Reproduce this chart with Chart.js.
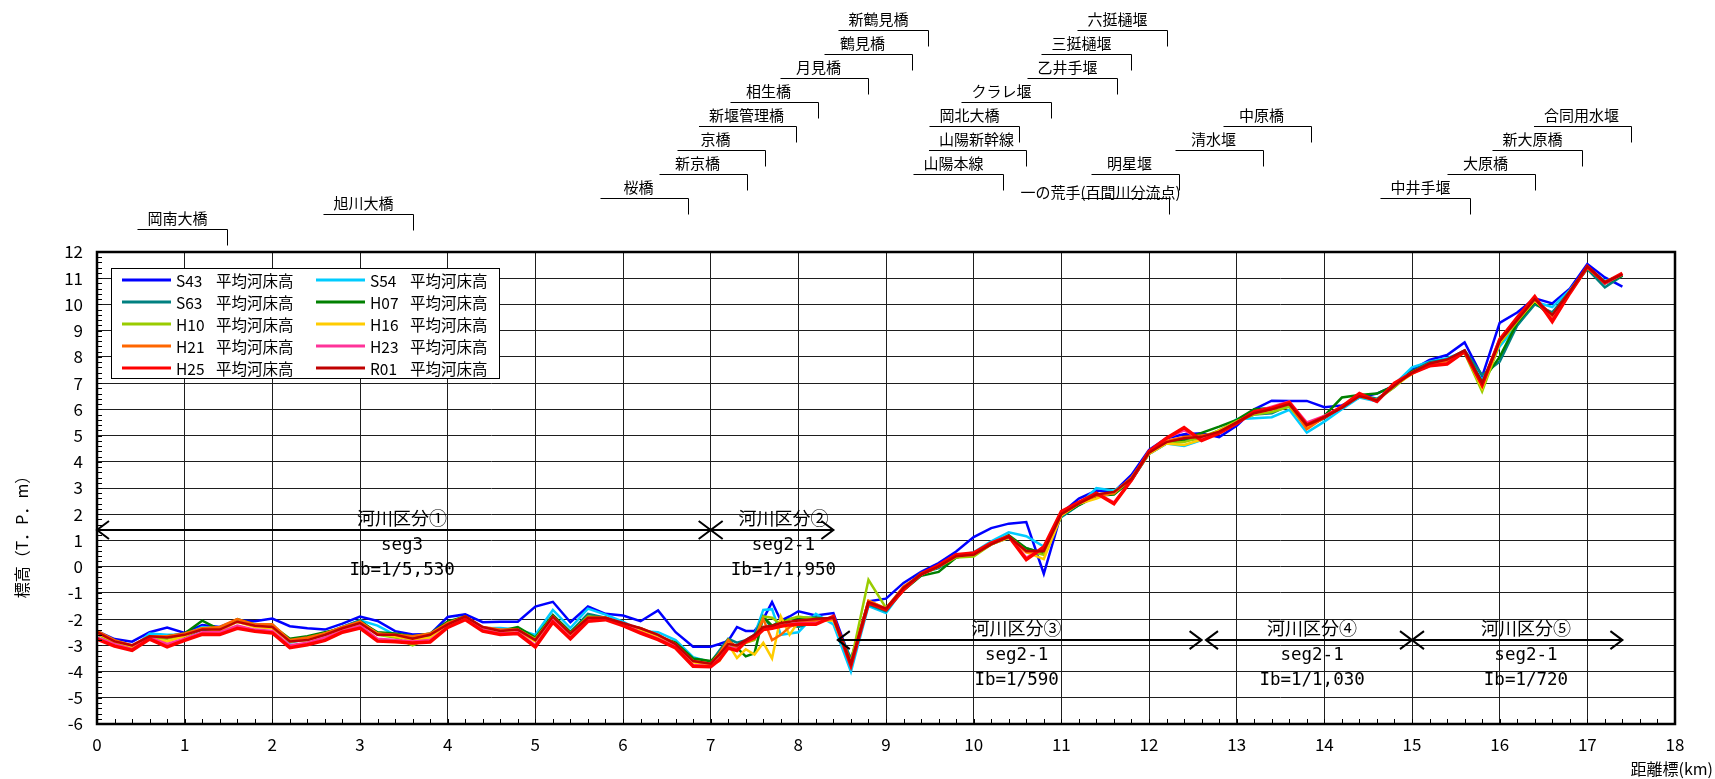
<!DOCTYPE html>
<html>
<head>
<meta charset="utf-8">
<script src="https://cdn.jsdelivr.net/npm/chart.js@4.4.1/dist/chart.umd.min.js"></script>
<style>
	html, body { margin: 0; padding: 0; background: #fff; }
	canvas { display: block; }
</style>
</head>
<body>
<canvas id="profile" width="1715" height="779"></canvas>
<script>
// 距離標 (km) - 0.2km pitch, 0.1km between 7.0 and 8.0
const km = [
	0, 0.2, 0.4, 0.6, 0.8, 1, 1.2, 1.4, 1.6, 1.8, 2, 2.2, 2.4, 2.6, 2.8, 3, 3.2, 3.4, 3.6, 3.8, 4, 4.2, 4.4, 4.6,
	4.8, 5, 5.2, 5.4, 5.6, 5.8, 6, 6.2, 6.4, 6.6, 6.8, 7,
	7.1, 7.2, 7.3, 7.4, 7.5, 7.6, 7.7, 7.8, 7.9, 8,
	8.2, 8.4, 8.6, 8.8, 9, 9.2, 9.4, 9.6, 9.8, 10, 10.2, 10.4, 10.6, 10.8, 11,
	11.2, 11.4, 11.6, 11.8,
	12, 12.2, 12.4, 12.6, 12.8, 13, 13.2, 13.4, 13.6, 13.8, 14,
	14.2, 14.4, 14.6, 14.8, 15, 15.2, 15.4, 15.6, 15.8, 16,
	16.2, 16.4, 16.6, 16.8, 17, 17.2, 17.4,
];

// 平均河床高 (T.P.m)
const S43 = [
	-2.46, -2.76, -2.86, -2.5, -2.32, -2.53, -2.23, -2.3, -2.04, -2.08, -1.98, -2.27, -2.35, -2.4, -2.17, -1.9, -2.07, -2.46, -2.59, -2.57, -1.92, -1.82, -2.12, -2.1,
	-2.1, -1.52, -1.34, -2.12, -1.52, -1.8, -1.86, -2.08, -1.67, -2.5, -3.05, -3.05,
	-2.95, -2.83, -2.3, -2.45, -2.45, -2.0, -1.35, -2.06, -1.9, -1.7,
	-1.86, -1.77, -3.6, -1.32, -1.22, -0.62, -0.2, 0.14, 0.58, 1.13, 1.47, 1.64, 1.7, -0.27, 2.04,
	2.6, 2.9, 2.85, 3.5,
	4.45, 4.9, 5.05, 5.09, 4.94, 5.37, 6.0, 6.33, 6.32, 6.32, 6.08,
	6.15, 6.45, 6.6, 6.9, 7.5, 7.88, 8.07, 8.55, 7.25, 9.3,
	9.69, 10.23, 10.04, 10.6, 11.54, 11.03, 10.68,
];
const S54 = [
	-2.45, -2.85, -3.1, -2.55, -2.6, -2.6, -2.3, -2.35, -2.05, -2.2, -2.2, -2.9, -2.75, -2.6, -2.3, -2.05, -2.25, -2.6, -2.85, -2.65, -2.15, -1.95, -2.35, -2.34,
	-2.4, -2.6, -1.65, -2.34, -1.6, -1.83, -2.1, -2.45, -2.5, -2.8, -3.45, -3.64,
	-3.4, -3.05, -3.1, -2.9, -2.6, -1.65, -1.62, -2.6, -2.55, -2.5,
	-1.8, -2.2, -4.0, -1.5, -1.77, -0.85, -0.3, 0.05, 0.4, 0.55, 0.97, 1.31, 1.16, 0.77, 1.9,
	2.35, 3.0, 2.9, 3.3,
	4.3, 4.7, 4.6, 4.83, 5.1, 5.62, 5.66, 5.7, 5.98, 5.11, 5.53,
	6.0, 6.45, 6.3, 6.95, 7.6, 7.82, 7.95, 8.2, 7.1, 8.4,
	9.2, 10.1, 9.9, 10.55, 11.4, 10.9, 11.1,
];
const S63 = [
	-2.55, -2.9, -3.2, -2.7, -2.7, -2.65, -2.4, -2.45, -2.05, -2.25, -2.3, -2.8, -2.75, -2.55, -2.3, -2.05, -2.55, -2.65, -2.7, -2.6, -2.15, -1.95, -2.4, -2.45,
	-2.35, -2.75, -1.85, -2.5, -1.8, -1.95, -2.2, -2.4, -2.65, -2.95, -3.55, -3.65,
	-3.2, -2.75, -2.9, -2.8, -2.6, -1.9, -2.35, -2.1, -2.2, -2.3,
	-2.1, -2.0, -3.5, -1.45, -1.7, -0.85, -0.25, -0.05, 0.35, 0.5, 0.85, 1.1, 0.7, 0.5, 1.9,
	2.35, 2.7, 2.8, 3.3,
	4.3, 4.7, 4.8, 4.9, 5.2, 5.55, 5.8, 5.85, 6.15, 5.35, 5.65,
	6.1, 6.55, 6.4, 6.85, 7.45, 7.8, 7.9, 8.25, 7.31, 7.82,
	9.2, 10.0, 9.7, 10.5, 11.35, 10.65, 11.1,
];
const H07 = [
	-2.55, -2.9, -3.1, -2.7, -2.65, -2.55, -2.06, -2.4, -2.0, -2.2, -2.25, -2.75, -2.65, -2.5, -2.35, -2.1, -2.5, -2.55, -2.65, -2.55, -2.1, -1.9, -2.35, -2.45,
	-2.3, -2.7, -1.85, -2.5, -1.9, -1.95, -2.2, -2.35, -2.65, -2.9, -3.5, -3.6,
	-3.3, -2.8, -3.1, -3.42, -3.3, -1.92, -2.25, -2.1, -2.0, -1.95,
	-1.95, -2.0, -3.65, -1.4, -1.65, -0.9, -0.35, -0.2, 0.35, 0.5, 0.85, 1.2, 0.7, 0.5, 1.95,
	2.35, 2.7, 2.75, 3.3,
	4.35, 4.75, 4.85, 5.1, 5.34, 5.6, 6.0, 6.05, 6.2, 5.35, 5.75,
	6.45, 6.55, 6.6, 6.9, 7.45, 7.7, 7.85, 8.2, 7.05, 8.0,
	9.3, 10.1, 9.5, 10.45, 11.4, 10.8, 11.1,
];
const H10 = [
	-2.55, -2.9, -3.1, -2.7, -2.75, -2.6, -2.35, -2.35, -2.1, -2.2, -2.3, -2.85, -2.8, -2.6, -2.35, -2.1, -2.6, -2.7, -3.0, -2.7, -2.15, -1.95, -2.35, -2.45,
	-2.4, -2.75, -1.9, -2.55, -1.9, -1.95, -2.2, -2.4, -2.65, -3.0, -3.6, -3.7,
	-3.4, -2.8, -3.2, -2.9, -2.8, -1.9, -1.95, -2.2, -2.0, -1.9,
	-2.0, -2.0, -3.65, -0.5, -1.57, -0.85, -0.3, 0.0, 0.35, 0.39, 0.85, 1.15, 0.6, 0.45, 2.0,
	2.4, 2.75, 2.8, 3.35,
	4.4, 4.7, 4.75, 4.95, 5.2, 5.55, 5.8, 5.9, 6.1, 5.3, 5.7,
	6.1, 6.5, 6.35, 6.85, 7.4, 7.7, 7.85, 8.15, 6.68, 8.5,
	9.35, 10.15, 9.6, 10.45, 11.4, 10.85, 11.15,
];
const H16 = [
	-2.55, -2.85, -3.05, -2.75, -2.85, -2.65, -2.35, -2.45, -2.1, -2.3, -2.35, -2.85, -2.75, -2.55, -2.4, -2.15, -2.55, -2.65, -2.8, -2.7, -2.2, -1.95, -2.35, -2.5,
	-2.45, -2.85, -1.95, -2.6, -1.95, -2.0, -2.2, -2.45, -2.7, -3.0, -3.65, -3.75,
	-3.6, -2.95, -3.48, -3.15, -3.35, -2.9, -3.5, -1.9, -2.6, -2.1,
	-2.05, -2.05, -3.7, -1.3, -1.6, -0.8, -0.3, 0.0, 0.4, 0.45, 0.85, 1.1, 0.55, 0.29, 1.95,
	2.4, 2.6, 2.85, 3.35,
	4.3, 4.7, 4.64, 4.85, 5.2, 5.5, 5.85, 6.0, 6.2, 5.3, 5.7,
	6.1, 6.5, 6.35, 6.9, 7.35, 7.7, 7.85, 8.2, 6.8, 8.55,
	9.4, 10.15, 9.55, 10.5, 11.4, 10.85, 11.15,
];
const H21 = [
	-2.45, -2.8, -3.0, -2.65, -2.65, -2.55, -2.35, -2.3, -2.0, -2.2, -2.2, -2.8, -2.7, -2.55, -2.3, -2.1, -2.55, -2.6, -2.65, -2.55, -2.15, -1.9, -2.3, -2.4,
	-2.4, -2.8, -1.95, -2.55, -1.95, -1.95, -2.2, -2.35, -2.6, -2.95, -3.6, -3.7,
	-3.3, -2.8, -3.1, -2.9, -2.75, -2.0, -2.8, -2.6, -2.3, -2.15,
	-2.05, -2.0, -3.7, -1.3, -1.6, -0.75, -0.3, 0.0, 0.4, 0.5, 0.9, 1.15, 0.55, 0.6, 2.0,
	2.45, 2.7, 2.8, 3.4,
	4.35, 4.8, 4.95, 5.0, 5.1, 5.5, 5.9, 6.0, 6.2, 5.24, 5.7,
	6.1, 6.5, 6.35, 6.95, 7.4, 7.75, 7.85, 8.2, 6.9, 8.7,
	9.45, 10.25, 9.45, 10.5, 11.45, 10.85, 11.15,
];
const H23 = [
	-2.7, -2.95, -3.15, -2.7, -2.95, -2.75, -2.5, -2.5, -2.25, -2.4, -2.45, -3.0, -2.9, -2.7, -2.45, -2.25, -2.75, -2.8, -2.85, -2.8, -2.3, -2.0, -2.4, -2.55,
	-2.5, -3.0, -2.05, -2.7, -2.05, -2.0, -2.2, -2.5, -2.75, -3.05, -3.75, -3.8,
	-3.5, -3.05, -3.15, -2.85, -2.7, -2.35, -2.3, -2.25, -2.2, -2.15,
	-2.15, -1.95, -3.75, -1.4, -1.6, -0.85, -0.3, 0.05, 0.45, 0.5, 0.9, 1.15, 0.35, 0.7, 2.05,
	2.45, 2.8, 2.45, 3.3,
	4.4, 4.9, 5.2, 4.85, 5.1, 5.45, 5.9, 6.1, 6.3, 5.5, 5.75,
	6.1, 6.55, 6.3, 6.95, 7.4, 7.65, 7.75, 8.2, 6.95, 8.65,
	9.5, 10.25, 9.4, 10.45, 11.45, 10.8, 11.15,
];
const H25 = [
	-2.76, -3.03, -3.19, -2.76, -3.06, -2.81, -2.58, -2.59, -2.35, -2.46, -2.53, -3.09, -2.98, -2.81, -2.5, -2.34, -2.84, -2.86, -2.91, -2.87, -2.32, -2.02, -2.46, -2.59,
	-2.55, -3.06, -2.12, -2.75, -2.08, -2.02, -2.25, -2.53, -2.78, -3.1, -3.8, -3.82,
	-3.55, -3.1, -3.2, -2.85, -2.7, -2.4, -2.35, -2.27, -2.22, -2.2,
	-2.2, -1.9, -3.77, -1.38, -1.64, -0.88, -0.28, 0.05, 0.46, 0.52, 0.9, 1.16, 0.27, 0.75, 2.1,
	2.45, 2.8, 2.4, 3.3,
	4.39, 4.9, 5.3, 4.81, 5.09, 5.47, 5.91, 6.04, 6.26, 5.41, 5.7,
	6.1, 6.6, 6.3, 7.0, 7.38, 7.66, 7.73, 8.2, 6.93, 8.65,
	9.5, 10.3, 9.35, 10.43, 11.44, 10.83, 11.19,
];
const R01 = [
	-2.5, -2.85, -3.0, -2.65, -2.7, -2.6, -2.4, -2.4, -2.1, -2.25, -2.3, -2.85, -2.8, -2.6, -2.35, -2.15, -2.6, -2.6, -2.75, -2.6, -2.2, -1.9, -2.3, -2.45,
	-2.4, -2.8, -1.9, -2.55, -1.95, -1.95, -2.15, -2.35, -2.6, -2.95, -3.6, -3.7,
	-3.35, -2.95, -3.0, -2.8, -2.6, -2.3, -2.25, -2.15, -2.1, -2.05,
	-2.0, -1.95, -3.7, -1.35, -1.6, -0.8, -0.3, 0.0, 0.4, 0.45, 0.85, 1.15, 0.6, 0.6, 2.0,
	2.4, 2.75, 2.85, 3.35,
	4.35, 4.75, 4.9, 4.95, 5.15, 5.5, 5.85, 6.0, 6.2, 5.4, 5.7,
	6.05, 6.5, 6.35, 6.9, 7.4, 7.75, 7.9, 8.25, 7.0, 8.6,
	9.4, 10.2, 9.6, 10.5, 11.45, 10.85, 11.15,
];

const seriesNames = ["S43", "S54", "S63", "H07", "H10", "H16", "H21", "H23", "H25", "R01"];
const seriesValues = [S43, S54, S63, H07, H10, H16, H21, H23, H25, R01];
const seriesColors = ["#0000ff", "#00ccff", "#008080", "#008000", "#99cc00", "#ffcc00", "#ff6600", "#ff3399", "#ff0000", "#c00000"];

// 橋梁・堰 (km)
const siteNames = [
	"岡南大橋", "旭川大橋", "桜橋", "新京橋", "京橋", "新堰管理橋", "相生橋", "月見橋", "鶴見橋", "新鶴見橋",
	"六挺樋堰", "三挺樋堰", "乙井手堰", "クラレ堰", "岡北大橋", "山陽新幹線", "山陽本線", "一の荒手(百間川分流点)", "明星堰",
	"清水堰", "中原橋", "中井手堰", "大原橋", "新大原橋", "合同用水堰",
];
const siteKm = [
	1.48, 3.6, 6.74, 7.42, 7.62, 7.97, 8.22, 8.8, 9.3, 9.48,
	12.2, 11.8, 11.64, 10.88, 10.52, 10.6, 10.34, 12.23, 12.34,
	13.3, 13.85, 15.66, 16.4, 16.94, 17.5,
];
// label tier (layout only)
const siteTier = [
	8.3, 7.67, 7, 6, 5, 4, 3, 2, 1, 0,
	0, 1, 2, 3, 4, 5, 6, 7, 6,
	5, 4, 7, 6, 5, 4,
];

// 河川区分
const segNames = ["河川区分①", "河川区分②", "河川区分③", "河川区分④", "河川区分⑤"];
const segTypes = ["seg3", "seg2-1", "seg2-1", "seg2-1", "seg2-1"];
const segSlopes = ["Ib=1/5,530", "Ib=1/1,950", "Ib=1/590", "Ib=1/1,030", "Ib=1/720"];
const segFrom = [0, 7, 8.45, 12.65, 15.0];
const segTo = [7, 8.4, 12.6, 15.0, 17.4];
const segLevel = [1.4, 1.4, -2.8, -2.8, -2.8];
const segTextKm = [3.48, 7.83, 10.49, 13.86, 16.3];

const xTicks = { min: 0, max: 18, step: 1 };
const yTicks = { min: -6, max: 12, step: 1 };

Chart.defaults.font.family = "'Noto Sans CJK JP', 'Noto Sans', sans-serif";
Chart.defaults.color = "#000";

const JP = "'Noto Sans CJK JP'";

const overlay = {
	id: "overlay",
	afterDatasetsDraw(chart) {
		const { ctx, chartArea: a, scales } = chart;
		const x = scales.x;
		const y = scales.y;
		ctx.save();

		// minor ticks (0.2 pitch)
		ctx.strokeStyle = "#000";
		ctx.lineWidth = 1;
		ctx.beginPath();
		for (let v = xTicks.min; v <= xTicks.max + 1e-6; v += 0.2) {
			const px = Math.round(x.getPixelForValue(v)) + 0.5;
			ctx.moveTo(px, a.bottom);
			ctx.lineTo(px, a.bottom - 5);
		}
		for (let v = yTicks.min; v <= yTicks.max + 1e-6; v += 0.2) {
			const py = Math.round(y.getPixelForValue(v)) + 0.5;
			ctx.moveTo(a.left, py);
			ctx.lineTo(a.left + 5, py);
		}
		ctx.stroke();

		// plot frame
		ctx.lineWidth = 2.5;
		ctx.strokeRect(a.left, a.top, a.right - a.left, a.bottom - a.top);

		// river segments
		ctx.lineWidth = 2;
		ctx.fillStyle = "#000";
		ctx.textAlign = "center";
		ctx.textBaseline = "middle";
		segNames.forEach((name, i) => {
			const x1 = x.getPixelForValue(segFrom[i]);
			const x2 = x.getPixelForValue(segTo[i]);
			const yy = y.getPixelForValue(segLevel[i]);
			ctx.beginPath();
			ctx.moveTo(x1, yy);
			ctx.lineTo(x2, yy);
			ctx.moveTo(x1 + 12, yy - 9);
			ctx.lineTo(x1, yy);
			ctx.lineTo(x1 + 12, yy + 9);
			ctx.moveTo(x2 - 12, yy - 9);
			ctx.lineTo(x2, yy);
			ctx.lineTo(x2 - 12, yy + 9);
			ctx.stroke();
			const tx = x.getPixelForValue(segTextKm[i]);
			ctx.font = "18px " + JP;
			ctx.fillText(name, tx, yy - 12);
			ctx.font = "17.5px 'DejaVu Sans Mono'";
			ctx.fillText(segTypes[i], tx, yy + 15);
			ctx.fillText(segSlopes[i], tx, yy + 40);
		});

		// legend
		const lx = a.left + 14;
		const ly = a.top + 16;
		ctx.fillStyle = "#fff";
		ctx.fillRect(lx, ly, 388, 110);
		ctx.lineWidth = 1;
		ctx.strokeStyle = "#000";
		ctx.strokeRect(lx + 0.5, ly + 0.5, 388, 110);
		ctx.textAlign = "left";
		ctx.font = "15.5px " + JP;
		seriesNames.forEach((name, i) => {
			const col = i % 2;
			const row = Math.floor(i / 2);
			const bx = lx + 11 + col * 194;
			const by = ly + 12 + row * 22;
			ctx.strokeStyle = seriesColors[i];
			ctx.lineWidth = 3;
			ctx.beginPath();
			ctx.moveTo(bx, by);
			ctx.lineTo(bx + 49, by);
			ctx.stroke();
			ctx.fillStyle = "#000";
			ctx.fillText(name, bx + 54, by + 1);
			ctx.fillText("平均河床高", bx + 94, by + 1);
		});

		ctx.restore();
	},
	afterDraw(chart) {
		const { ctx, scales } = chart;
		const x = scales.x;
		ctx.save();
		ctx.fillStyle = "#000";
		ctx.strokeStyle = "#000";
		ctx.lineWidth = 1;
		ctx.font = "15px " + JP;
		ctx.textBaseline = "middle";
		ctx.textAlign = "center";

		// site labels
		siteNames.forEach((name, i) => {
			const xv = Math.round(x.getPixelForValue(siteKm[i])) + 0.5;
			const lineY = Math.round(30 + 24 * siteTier[i]) + 0.5;
			const w = ctx.measureText(name).width;
			let cx = Math.min(xv - 50, xv - 9 - w / 2);
			let start = Math.min(xv - 88, cx - w / 2 - 10);
			let ty = lineY - 11;
			if (name.length > 6) {
				cx = xv - 69;
				start = xv - 88;
				ty = lineY - 6;
			}
			ctx.fillText(name, cx, ty);
			ctx.beginPath();
			ctx.moveTo(start, lineY);
			ctx.lineTo(xv, lineY);
			ctx.lineTo(xv, lineY + 16);
			ctx.stroke();
		});

		// axis titles
		ctx.font = "16px " + JP;
		ctx.textAlign = "right";
		ctx.fillText("距離標(km)", 1713, 769);
		ctx.translate(22, 533);
		ctx.rotate(-Math.PI / 2);
		ctx.textAlign = "center";
		ctx.fillText("標高（T．P．m）", 0, 0);
		ctx.restore();
	},
};

const datasets = seriesNames.map((name, i) => ({
	label: name + "　平均河床高",
	data: km.map((k, j) => ({ x: k, y: seriesValues[i][j] })),
	borderColor: seriesColors[i],
	backgroundColor: seriesColors[i],
	borderWidth: name === "H25" ? 3.5 : 2.5,
	pointRadius: 0,
	tension: 0,
	order: seriesNames.length - 1 - i,
}));

new Chart(document.getElementById("profile"), {
	type: "line",
	data: { datasets },
	options: {
		responsive: false,
		animation: false,
		devicePixelRatio: 1,
		layout: { padding: { left: 0, right: 40, top: 252, bottom: 0 } },
		plugins: {
			legend: { display: false },
			tooltip: { enabled: false },
		},
		scales: {
			x: {
				type: "linear",
				min: xTicks.min,
				max: xTicks.max,
				afterFit: (s) => { s.height = 55; },
				ticks: { stepSize: xTicks.step, autoSkip: false, maxRotation: 0, padding: 10, font: { size: 17 } },
				grid: { color: "#1e1e1e", lineWidth: 1, drawTicks: false },
				border: { display: false },
			},
			y: {
				type: "linear",
				min: yTicks.min,
				max: yTicks.max,
				afterFit: (s) => { s.width = 97; },
				ticks: { stepSize: yTicks.step, autoSkip: false, padding: 14, font: { size: 17 } },
				grid: { color: "#1e1e1e", lineWidth: 1, drawTicks: false },
				border: { display: false },
			},
		},
	},
	plugins: [overlay],
});
</script>
</body>
</html>
